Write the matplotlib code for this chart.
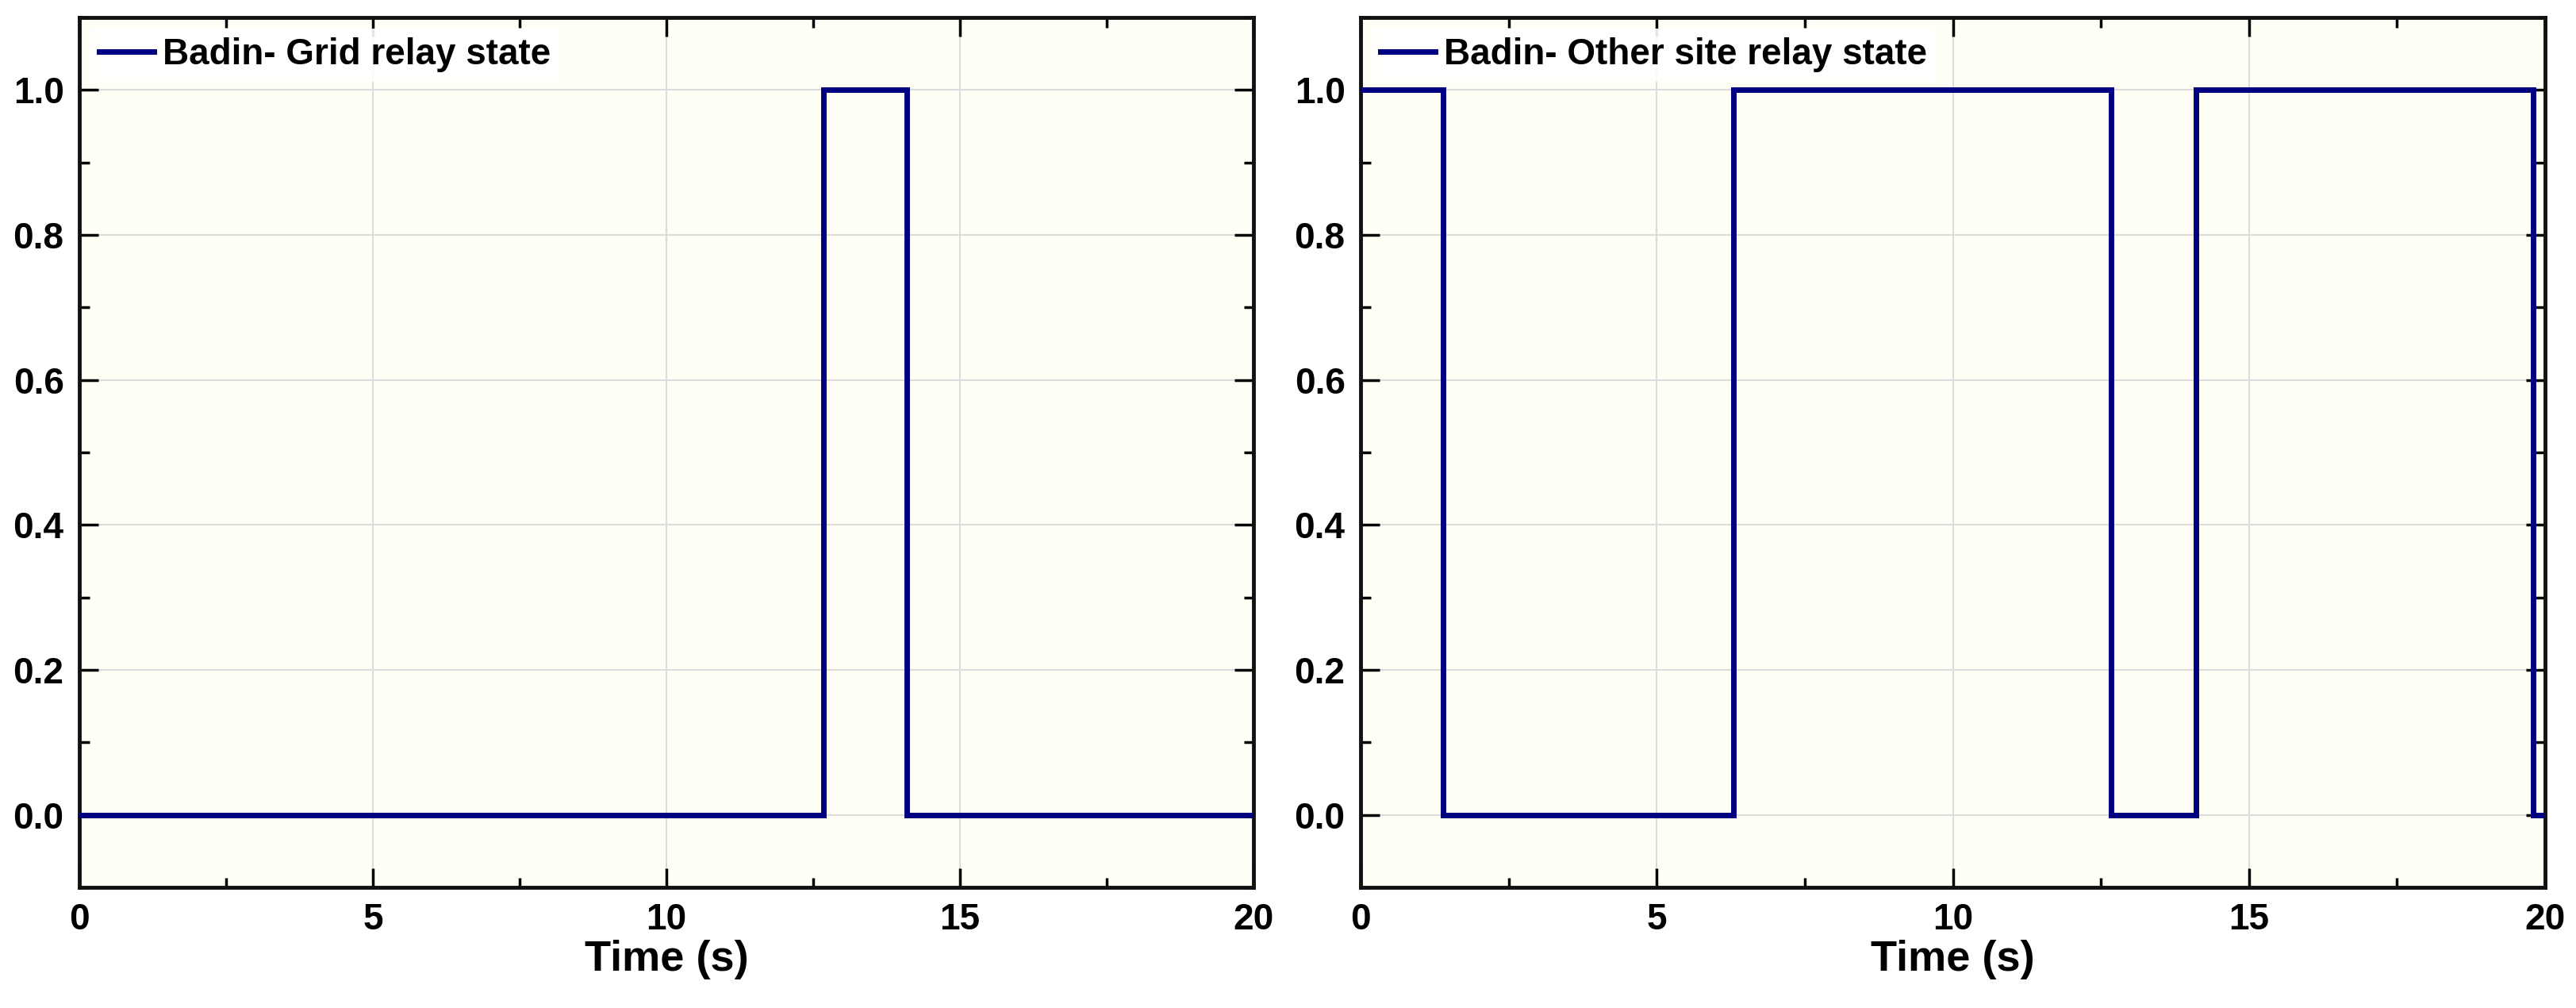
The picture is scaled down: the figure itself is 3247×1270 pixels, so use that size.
import matplotlib
matplotlib.use("Agg")
import matplotlib.pyplot as plt
from matplotlib.ticker import MultipleLocator, FormatStrFormatter

# relay switching instants (s) and states
grid_times = [0.0, 12.67, 14.10, 20.0]
grid_state = [0, 1, 0, 0]

other_times = [0.0, 1.39, 6.30, 12.67, 14.10, 19.80, 20.0]
other_state = [1, 0, 1, 0, 1, 0, 0]

labels = ["Badin- Grid relay state", "Badin- Other site relay state"]

plt.rcParams['font.family'] = ["Liberation Sans", "DejaVu Sans"]
plt.rcParams['font.weight'] = 'bold'

fig = plt.figure(figsize=(32.48, 12.70), dpi=100)
ax1 = fig.add_axes([100 / 3248, 152 / 1270, 1480 / 3248, 1096 / 1270])
ax2 = fig.add_axes([1715 / 3248, 152 / 1270, 1493 / 3248, 1096 / 1270])

for ax, t, s, lab in [(ax1, grid_times, grid_state, labels[0]),
                      (ax2, other_times, other_state, labels[1])]:
    ax.set_facecolor('#FFFFF6')
    ax.step(t, s, where='post', color='#000080', lw=5, label=lab,
            solid_joinstyle='miter', zorder=3)
    ax.set_xlim(0, 20)
    ax.set_ylim(-0.1, 1.1)
    ax.xaxis.set_major_locator(MultipleLocator(5))
    ax.xaxis.set_minor_locator(MultipleLocator(2.5))
    ax.yaxis.set_major_locator(MultipleLocator(0.2))
    ax.yaxis.set_minor_locator(MultipleLocator(0.1))
    ax.yaxis.set_major_formatter(FormatStrFormatter('%.1f'))
    ax.grid(True, which='major', color='#DCDCDC', lw=1.5, zorder=0)
    ax.tick_params(which='both', direction='in', top=True, right=True,
                   width=2.5, color='black', labelsize=33, pad=14)
    ax.tick_params(which='major', length=17)
    ax.tick_params(which='minor', length=9)
    for sp in ax.spines.values():
        sp.set_linewidth(3.5)
        sp.set_color('#111111')
    ax.set_xlabel('Time (s)', fontsize=39, fontweight='bold', labelpad=2)
    leg = ax.legend(loc='upper left', fontsize=33, frameon=True,
                    handlelength=1.5, handletextpad=0.25, borderaxespad=0.3,
                    borderpad=0.25, fancybox=False)
    leg.get_frame().set_facecolor('white')
    leg.get_frame().set_edgecolor('none')
    leg.get_frame().set_alpha(0.9)

fig.savefig('out.png', dpi=100)
